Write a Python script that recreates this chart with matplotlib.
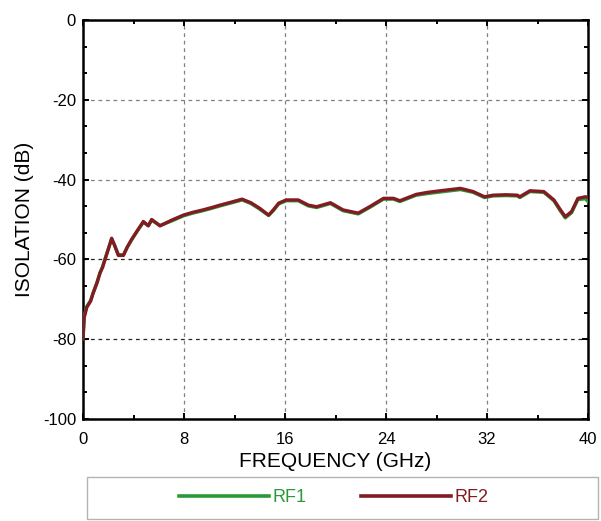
import matplotlib
matplotlib.use("Agg")
import matplotlib.pyplot as plt
from matplotlib.patches import Rectangle
from matplotlib.ticker import MultipleLocator

plt.rcParams['font.family'] = ['Liberation Sans', 'DejaVu Sans']
plt.rcParams['axes.unicode_minus'] = False

# frequency (GHz) / isolation (dB)
freq = [0.0, 0.1, 0.3, 0.6, 0.8, 1.1, 1.35, 1.55, 1.75, 2.0, 2.27, 2.5, 2.8, 3.2, 3.5,
        3.85, 4.3, 4.78, 5.17, 5.44, 6.1, 7.0, 7.95, 8.7, 9.5, 10.2, 10.85, 11.8, 12.6,
        13.3, 14.0, 14.7, 15.1, 15.5, 16.1, 17.05, 17.85, 18.5, 19.6, 20.6, 21.8, 22.7,
        23.8, 24.6, 25.1, 26.4, 27.3, 28.3, 29.9, 30.9, 31.8, 32.5, 33.5, 34.4, 34.6,
        35.4, 36.5, 37.3, 37.8, 38.2, 38.7, 39.2, 39.8, 40.0]
rf2 = [-80.0, -74.5, -72.0, -70.5, -68.5, -66.0, -63.4, -62.0, -60.0, -57.5, -54.7,
       -56.5, -59.0, -59.0, -57.0, -55.0, -52.8, -50.5, -51.6, -50.0, -51.6, -50.2,
       -48.9, -48.2, -47.6, -47.0, -46.4, -45.6, -44.9, -45.8, -47.2, -48.9, -47.5,
       -45.9, -45.1, -45.1, -46.4, -46.8, -45.8, -47.6, -48.4, -46.8, -44.7, -44.7,
       -45.3, -43.7, -43.2, -42.8, -42.2, -43.0, -44.3, -43.9, -43.8, -43.9, -44.3,
       -42.8, -43.0, -45.1, -47.5, -49.3, -48.0, -44.7, -44.3, -44.5]
rf1 = [-79.5, -74.0, -71.8, -70.3, -68.4, -65.8, -63.3, -61.8, -59.8, -57.4, -54.9,
       -56.4, -58.8, -58.9, -56.9, -55.1, -52.9, -50.7, -51.5, -50.2, -51.5, -50.4,
       -49.1, -48.4, -47.8, -47.2, -46.6, -45.8, -45.1, -46.0, -47.4, -49.0, -47.7,
       -46.1, -45.3, -45.3, -46.6, -47.0, -46.0, -47.8, -48.6, -47.0, -44.9, -44.9,
       -45.5, -43.9, -43.5, -43.1, -42.5, -43.2, -44.5, -44.1, -44.0, -44.1, -44.5,
       -43.0, -43.2, -45.3, -47.8, -49.6, -48.3, -45.0, -44.8, -45.5]

xticks = [0, 8, 16, 24, 32, 40]
yticks = [0, -20, -40, -60, -80, -100]

fig = plt.figure(figsize=(6.01, 5.21), dpi=100)
ax = fig.add_axes([83 / 601, 102 / 521, 505 / 601, 399 / 521])

ax.plot(freq, rf1, color="#2a9a38", linewidth=2.4, label="RF1", zorder=3)
ax.plot(freq, rf2, color="#821c22", linewidth=2.4, label="RF2", zorder=4)

ax.set_xlim(0, 40)
ax.set_ylim(-100, 0)
ax.set_xticks(xticks)
ax.set_yticks(yticks)
ax.xaxis.set_minor_locator(MultipleLocator(4))
ax.yaxis.set_minor_locator(MultipleLocator(20 / 3))
ax.tick_params(which="both", direction="in", top=True, right=True, width=1.4)
ax.tick_params(which="major", length=4, labelsize=12)
ax.tick_params(axis="x", which="major", pad=9)
ax.tick_params(axis="y", which="major", pad=5)
ax.tick_params(which="minor", length=3)
for s in ax.spines.values():
    s.set_linewidth(1.8)

ax.grid(True, which="major", color="0.5", linestyle=(0, (3, 3)), linewidth=0.9)
for val, gl in zip(ax.get_yticks(), ax.yaxis.get_gridlines()):
    if val in (-60, -80):
        gl.set_color("0.15")

ax.set_xlabel("FREQUENCY (GHz)", fontsize=15, labelpad=4)
ax.set_ylabel("ISOLATION (dB)", fontsize=15, labelpad=6)

# legend box below the axes
fig.patches.append(Rectangle((87 / 601, 2 / 521), 511 / 601, 42 / 521,
                             transform=fig.transFigure, fill=False,
                             edgecolor="0.7", linewidth=1.0))
fig.legend(loc="center", bbox_to_anchor=(334 / 601, 23 / 521), ncol=2,
           frameon=False, handlelength=5.0, handletextpad=0.2, columnspacing=3.0,
           fontsize=13, labelcolor="linecolor")
for line in fig.legends[0].get_lines():
    line.set_linewidth(2.6)

fig.savefig("out.png", dpi=100)
